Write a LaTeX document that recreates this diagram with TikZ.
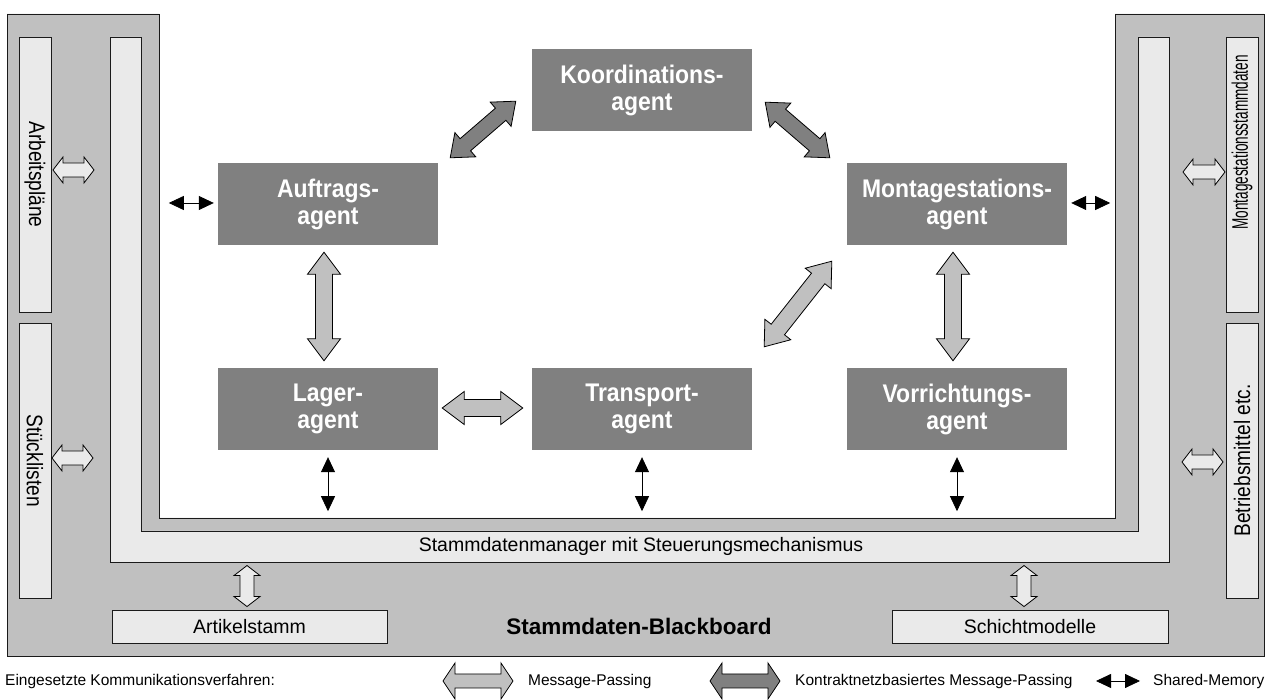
\documentclass[tikz,border=0pt]{standalone}
\usepackage{fontspec}
\usepackage{graphicx}
\setmainfont{Liberation Sans}
\newfontfamily\agentfont{Liberation Sans}[FakeStretch=0.9]
\newfontfamily\colfont{Liberation Sans}[FakeStretch=0.85]
\usetikzlibrary{calc,arrows.meta}

\definecolor{bbgray}{HTML}{C0C0C0}
\definecolor{mgrlight}{HTML}{EAEAEA}
\definecolor{agentgray}{HTML}{808080}
\definecolor{edgecol}{HTML}{1A1A1A}

% double-headed block arrow between two coordinates
% #1 style, #2 tail, #3 head, #4 head length, #5 half head width, #6 half shaft width
\newcommand\blockarrow[6]{%
  \draw[#1] (#2)
    -- ($(#2)!#4!(#3)!#5!90:(#3)$)
    -- ($(#2)!#4!(#3)!#6!90:(#3)$)
    -- ($(#3)!#4!(#2)!#6!-90:(#2)$)
    -- ($(#3)!#4!(#2)!#5!-90:(#2)$)
    -- (#3)
    -- ($(#3)!#4!(#2)!#5!90:(#2)$)
    -- ($(#3)!#4!(#2)!#6!90:(#2)$)
    -- ($(#2)!#4!(#3)!#6!-90:(#3)$)
    -- ($(#2)!#4!(#3)!#5!-90:(#3)$)
    -- cycle;}

\tikzset{
  board/.style={fill=bbgray, draw=edgecol, line width=0.9pt, line join=miter},
  manager/.style={fill=mgrlight, draw=edgecol, line width=0.9pt, line join=miter},
  store/.style={fill=mgrlight, draw=edgecol, line width=0.9pt, inner sep=0pt},
  agent/.style={fill=agentgray, text=white, minimum width=220pt, minimum height=82pt,
    inner sep=0pt, align=center, font=\agentfont\fontsize{25.5}{27}\selectfont\bfseries},
  lbl/.style={font=\fontsize{19.5}{22}\selectfont, inner sep=0pt},
  collbl/.style={font=\colfont\fontsize{22.5}{24}\selectfont, inner sep=0pt},
  msgarrow/.style={fill=bbgray, draw=black, line width=0.8pt, line join=miter},
  ctrarrow/.style={fill=agentgray, draw=black, line width=0.8pt, line join=miter},
  storarrow/.style={fill=mgrlight, draw=black, line width=0.8pt, line join=miter},
  shm/.style={draw=black, line width=0.8pt,
    {Triangle[length=15pt,width=14pt]}-{Triangle[length=15pt,width=14pt]}},
  legtext/.style={font=\fontsize{15.5}{17}\selectfont, inner sep=0pt, anchor=west},
}

\begin{document}
\begin{tikzpicture}[x=1pt,y=1pt]
\useasboundingbox (0,0) rectangle (1271,700);
\fill[white] (0,0) rectangle (1271,700);

% Stammdaten-Blackboard (U shape)
\draw[board] (7,686) -- (7,44) -- (1264,44) -- (1264,686) -- (1115,686)
  -- (1115,182) -- (159,182) -- (159,686) -- cycle;
% Stammdatenmanager (inner U shape)
\draw[manager] (110,663) -- (110,138) -- (1169,138) -- (1169,663) -- (1138,663)
  -- (1138,169) -- (141,169) -- (141,663) -- cycle;
\node[lbl] (mgrtext) at (641,153.5) {Stammdatenmanager mit Steuerungsmechanismus};
\node[font=\fontsize{22.5}{25}\selectfont\bfseries, inner sep=0pt] (bbtext) at (639,74)
  {Stammdaten-Blackboard};

% master data stores
\node[store, minimum width=32pt, minimum height=275pt] (arb) at (35,525.5) {};
\node[collbl, rotate=-90] (arbt) at (arb.center) {Arbeitspläne};
\node[store, minimum width=32pt, minimum height=275pt] (stk) at (35,239.5) {};
\node[collbl, rotate=-90] (stkt) at (stk.center) {Stücklisten};
\node[store, minimum width=32pt, minimum height=275pt] (msd) at (1242,525.5) {};
\node[collbl, rotate=90] (msdt) at (1242,557.5) {\scalebox{0.71}[1]{Montagestationsstammdaten}};
\node[store, minimum width=32pt, minimum height=275pt] (bmt) at (1242,239.5) {};
\node[collbl, rotate=90] (bmtt) at (bmt.center) {Betriebsmittel etc.};
\node[store, lbl, minimum width=275pt, minimum height=33pt] (art) at (249.5,73.5) {Artikelstamm};
\node[store, lbl, minimum width=276pt, minimum height=33pt] (sch) at (1030,73.5) {Schichtmodelle};

% agents
\node[agent] (koord) at (642,610) {Koordinations-\\agent};
\node[agent] (auf)   at (328,496) {Auftrags-\\agent};
\node[agent] (mont)  at (957,496) {Montagestations-\\agent};
\node[agent] (lager) at (328,291) {Lager-\\agent};
\node[agent] (trans) at (642,291) {Transport-\\agent};
\node[agent] (vor)   at (957,291) {Vorrichtungs-\\agent};

% store access arrows
\coordinate (arbA) at ($(arb.center)+(18,4.5)$);
\coordinate (arbB) at ($(arb.center)+(59,4.5)$);
\blockarrow{storarrow}{arbA}{arbB}{10pt}{13pt}{7pt}
\coordinate (stkA) at ($(stk.center)+(17,2.5)$);
\coordinate (stkB) at ($(stk.center)+(58,2.5)$);
\blockarrow{storarrow}{stkA}{stkB}{10pt}{13pt}{7pt}
\coordinate (msdA) at ($(msd.center)+(-17,2.5)$);
\coordinate (msdB) at ($(msd.center)+(-59,2.5)$);
\blockarrow{storarrow}{msdA}{msdB}{10pt}{13pt}{7pt}
\coordinate (bmtA) at ($(bmt.center)+(-19,-1.5)$);
\coordinate (bmtB) at ($(bmt.center)+(-60,-1.5)$);
\blockarrow{storarrow}{bmtA}{bmtB}{10pt}{13pt}{7pt}
\coordinate (artA) at ($(art.north)+(-2.5,3)$);
\coordinate (artB) at ($(art.north)+(-2.5,44)$);
\blockarrow{storarrow}{artA}{artB}{10pt}{13pt}{7pt}
\coordinate (schA) at ($(sch.north)+(-6,3)$);
\coordinate (schB) at ($(sch.north)+(-6,44)$);
\blockarrow{storarrow}{schA}{schB}{10pt}{13pt}{7pt}

% contract net message passing
\coordinate (k1a) at ($(auf.north east)+(12,5)$);
\coordinate (k1b) at ($(koord.south west)+(-16,30)$);
\blockarrow{ctrarrow}{k1a}{k1b}{20pt}{16pt}{8pt}
\coordinate (k2a) at ($(koord.south east)+(13,29)$);
\coordinate (k2b) at ($(mont.north west)+(-17,5)$);
\blockarrow{ctrarrow}{k2a}{k2b}{20pt}{16pt}{8pt}

% message passing
\coordinate (m1a) at ($(auf.south)+(-4,-7)$);
\coordinate (m1b) at ($(lager.north)+(-4,7)$);
\blockarrow{msgarrow}{m1a}{m1b}{22pt}{16.5pt}{8.5pt}
\coordinate (m2a) at ($(mont.south)+(-4,-7)$);
\coordinate (m2b) at ($(vor.north)+(-4,7)$);
\blockarrow{msgarrow}{m2a}{m2b}{22pt}{16.5pt}{8.5pt}
\coordinate (m3a) at ($(lager.east)+(4,1)$);
\coordinate (m3b) at ($(trans.west)+(-9,1)$);
\blockarrow{msgarrow}{m3a}{m3b}{22pt}{16.5pt}{8.5pt}
\coordinate (m4a) at ($(trans.north east)+(12,21)$);
\coordinate (m4b) at ($(mont.south west)+(-15,-16)$);
\blockarrow{msgarrow}{m4a}{m4b}{22pt}{16.5pt}{8.5pt}

% shared memory access
\coordinate (s1) at ($(auf.west)+(-49,1)$);
\draw[shm] (s1) -- ($(auf.west)+(-4,1)$);
\coordinate (s2) at ($(mont.east)+(43,1)$);
\draw[shm] ($(mont.east)+(4,1)$) -- (s2);
\coordinate (s3) at ($(lager.south)+(0,-61)$);
\draw[shm] ($(lager.south)+(0,-7)$) -- (s3);
\coordinate (s4) at ($(trans.south)+(0,-61)$);
\draw[shm] ($(trans.south)+(0,-7)$) -- (s4);
\coordinate (s5) at ($(vor.south)+(0,-61)$);
\draw[shm] ($(vor.south)+(0,-7)$) -- (s5);

% legend
\node[legtext] (legtitle) at (5,19) {Eingesetzte Kommunikationsverfahren:};
\coordinate (l1a) at (443,19);
\coordinate (l1b) at (513,19);
\blockarrow{msgarrow}{l1a}{l1b}{12pt}{18pt}{7pt}
\node[legtext] (legmsg) at (528,19) {Message-Passing};
\coordinate (l2a) at (710,19);
\coordinate (l2b) at (780,19);
\blockarrow{ctrarrow}{l2a}{l2b}{12pt}{18pt}{7pt}
\node[legtext] (legctr) at (795,19) {Kontraktnetzbasiertes Message-Passing};
\coordinate (l3a) at (1096,19);
\coordinate (l3b) at (1140,19);
\draw[shm] (l3a) -- (l3b);
\node[legtext] (legshm) at (1153,19) {Shared-Memory};
\end{tikzpicture}
\end{document}
